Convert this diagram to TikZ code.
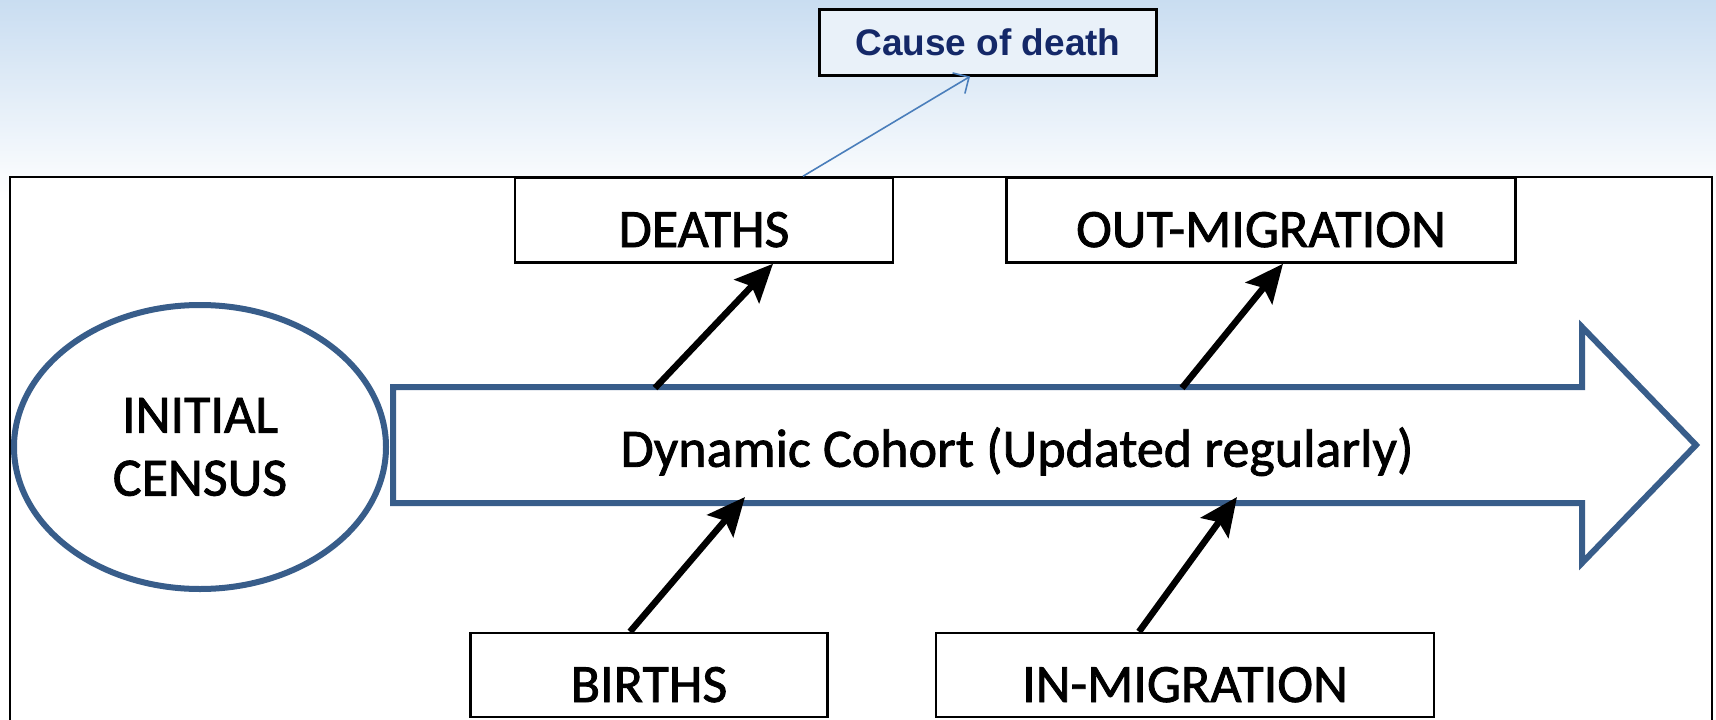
\documentclass[tikz,border=0pt]{standalone}
\usepackage{fontspec}
\setmainfont{Carlito}[FakeBold=1.5]
\newfontfamily\notefont{Liberation Sans}
\usepackage{tikz}
\usetikzlibrary{positioning, arrows.meta, shapes.geometric, calc}
\definecolor{cohortblue}{HTML}{385D8A}
\definecolor{linkblue}{HTML}{4A7EBB}
\definecolor{notenavy}{HTML}{142868}
\definecolor{skyblue}{HTML}{C9DDF1}
\tikzset{
  box/.style={draw=black, line width=2.5pt, fill=white, minimum height=85, inner sep=0pt,
    text height=54pt, text depth=0pt, font=\fontsize{54}{60}\selectfont},
  census/.style={ellipse, draw=cohortblue, line width=6pt, fill=white, minimum width=372,
    minimum height=284, inner sep=0pt, align=center, font=\fontsize{54}{63}\selectfont},
  label/.style={inner sep=0pt, text depth=0pt, font=\fontsize{54}{60}\selectfont},
  note/.style={draw=black, line width=3pt, fill=skyblue!40, minimum width=337, minimum height=66,
    inner sep=0pt, text=notenavy, font=\notefont\bfseries\fontsize{37}{42}\selectfont},
  flow/.style={line width=6.5pt, -{Stealth[length=38pt, width=34pt, inset=7pt]}},
  link/.style={draw=linkblue, line width=1.6pt, -{Straight Barb[length=12pt, width=24pt]}}
}

\begin{document}
\begin{tikzpicture}[x=1pt, y=-1pt]
    \useasboundingbox (0,0) rectangle (1716,720);
    \clip (0,0) rectangle (1716,720);

    % Background and frame
    \shade[top color=skyblue, bottom color=white] (0,0) rectangle (1716,200);
    \fill[white] (0,200) rectangle (1716,720);
    \draw[line width=2pt, fill=white] (10,177) rectangle (1712,760);

    % Cohort arrow
    \draw[cohortblue, line width=6pt, fill=white, miter limit=10]
        (393,387) -- (1582,387) -- (1582,327) -- (1696,445) -- (1582,563) -- (1582,503) -- (393,503) -- cycle;

    % Define nodes
    \node[census] (census) at (200,447) {INITIAL\\CENSUS};
    \node[label] (cohort) at (1017,447) {Dynamic Cohort (Updated regularly)};
    \node[box, minimum width=378] (deaths) at (704,220) {DEATHS};
    \node[box, minimum width=509] (outmig) at (1261,220) {OUT-MIGRATION};
    \node[box, minimum width=357, minimum height=84] (births) at (649,675) {BIRTHS};
    \node[box, minimum width=498, minimum height=84] (inmig) at (1185,675) {IN-MIGRATION};
    \node[note] (cause) at (988,42) {Cause of death};

    % Points on the cohort arrow
    \coordinate (deathsout) at (655,388);
    \coordinate (outmigout) at (1182,388);
    \coordinate (birthsin) at (745,497);
    \coordinate (inmigin) at (1237,497);

    % Draw arrows
    \draw[flow] (deathsout) -- ($(deaths.south)+(69,0)$);
    \draw[flow] (outmigout) -- ($(outmig.south)+(22,0)$);
    \draw[flow] ($(births.north)+(-19,0)$) -- (birthsin);
    \draw[flow] ($(inmig.north)+(-46,0)$) -- (inmigin);
    \draw[link] ($(deaths.north)+(99,0)$) -- ($(cause.south)+(-18,0)$);
\end{tikzpicture}
\end{document}
